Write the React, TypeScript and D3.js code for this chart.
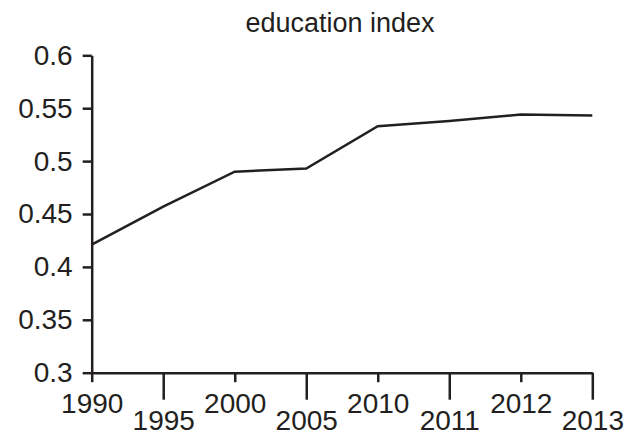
import { useEffect, useRef } from "react";
import * as d3 from "d3";

const years = ["1990", "1995", "2000", "2005", "2010", "2011", "2012", "2013"];
const educationIndex = [0.421, 0.457, 0.49, 0.493, 0.533, 0.538, 0.544, 0.543];
const yTicks = [0.3, 0.35, 0.4, 0.45, 0.5, 0.55, 0.6];
const title = "education index";

const ink = "#231f20";
const font = "'Liberation Sans', Arial, sans-serif";

export default function App() {
  const svgRef = useRef<SVGSVGElement>(null);

  useEffect(() => {
    if (!svgRef.current) return;
    const svg = d3.select(svgRef.current);
    svg.selectAll("*").remove();

    const x = d3.scalePoint<string>().domain(years).range([91.7, 592.3]);
    const y = d3.scaleLinear().domain([0.3, 0.6]).range([372.7, 55.3]);

    // Title
    svg
      .append("text")
      .attr("x", 340)
      .attr("y", 31.5)
      .attr("text-anchor", "middle")
      .attr("fill", ink)
      .style("font-family", font)
      .style("font-size", "27px")
      .text(title);

    // Y axis
    const yAxis = svg
      .append("g")
      .attr("transform", `translate(${x(years[0])},0)`)
      .call(
        d3
          .axisLeft(y)
          .tickValues(yTicks)
          .tickSize(9)
          .tickSizeOuter(0)
          .tickPadding(10)
          .tickFormat((d) => d3.format("~g")(d as number))
      );
    yAxis.select(".domain").attr("stroke", ink).attr("stroke-width", 2.5);
    yAxis.selectAll(".tick line").attr("stroke", ink).attr("stroke-width", 2.5);
    yAxis
      .selectAll(".tick text")
      .attr("fill", ink)
      .style("font-family", font)
      .style("font-size", "28px");

    // X axis, alternating tick lengths and staggered labels
    const xAxis = svg
      .append("g")
      .attr("transform", `translate(0,${y(0.3)})`)
      .call(d3.axisBottom(x).tickSize(9).tickSizeOuter(0));
    xAxis.select(".domain").attr("stroke", ink).attr("stroke-width", 2.5);
    xAxis
      .selectAll<SVGLineElement, string>(".tick line")
      .attr("stroke", ink)
      .attr("stroke-width", 2.5)
      .attr("y2", (_d, i) => (i % 2 === 0 ? 9.5 : 27));
    xAxis
      .selectAll<SVGTextElement, string>(".tick text")
      .attr("fill", ink)
      .attr("dy", null)
      .attr("y", (_d, i) => (i % 2 === 0 ? 40.5 : 57.5))
      .style("font-family", font)
      .style("font-size", "28px");

    // Line
    const line = d3
      .line<number>()
      .x((_d, i) => x(years[i]) as number)
      .y((d) => y(d));

    svg
      .append("path")
      .datum(educationIndex)
      .attr("fill", "none")
      .attr("stroke", ink)
      .attr("stroke-width", 2.5)
      .attr("stroke-linejoin", "miter")
      .attr("d", line);
  }, []);

  return (
    <svg
      ref={svgRef}
      width={637}
      height={437}
      style={{ position: "absolute", left: 0, top: 0, background: "#fff" }}
    ></svg>
  );
}
